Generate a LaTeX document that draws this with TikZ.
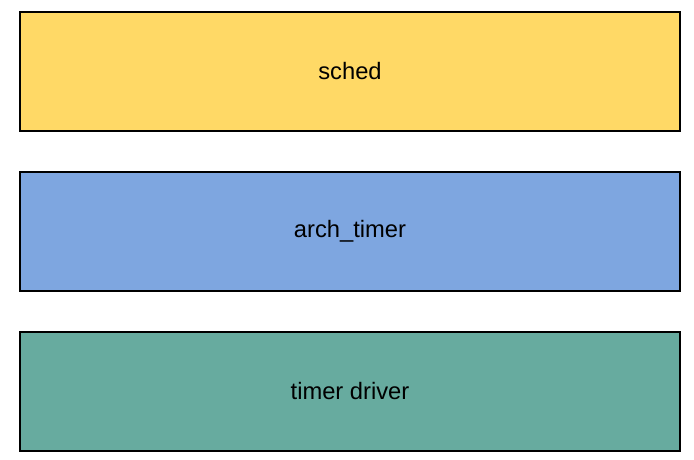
\documentclass[tikz,border=0pt]{standalone}
\usepackage{xcolor}
\usepackage{fontspec}
\setmainfont{Liberation Sans}
\definecolor{schedcol}{HTML}{FFD966}
\definecolor{archcol}{HTML}{7EA6E0}
\definecolor{drivercol}{HTML}{67AB9F}

\begin{document}
\begin{tikzpicture}[x=0.75pt, y=-0.75pt,
    layer/.style={draw=black, line width=1.5pt, minimum width=495pt, minimum height=89.5pt, inner sep=0pt, font=\fontsize{17.8pt}{20pt}\selectfont}]
\useasboundingbox (0,0) rectangle (694,460);

    \node[layer, fill=schedcol]  (sched) at (350,71.5)  {sched};
    \node[layer, fill=archcol]   (arch)  at (350,231.5) {arch\_timer};
    \node[layer, fill=drivercol] (drv)   at (350,391.5) {timer driver};

\end{tikzpicture}
\end{document}
